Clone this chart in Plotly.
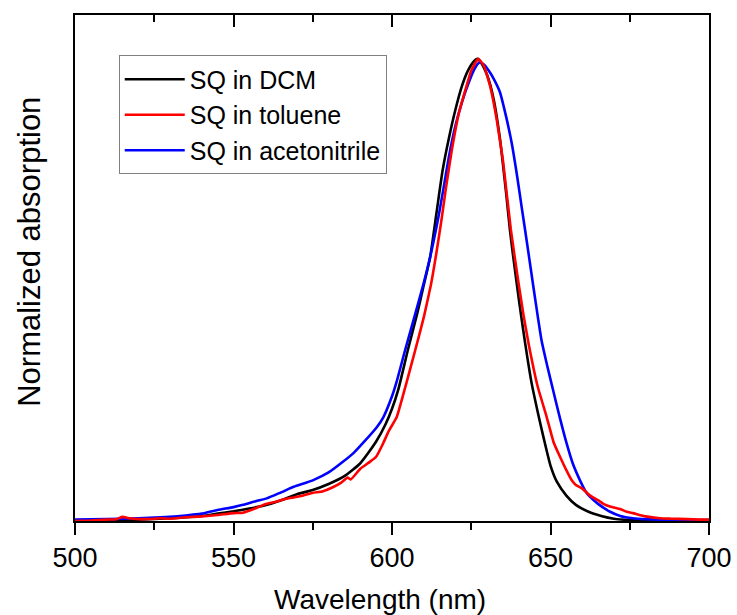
import plotly.graph_objects as go

# ---------------- data ----------------
dcm_wl = [500, 510, 520, 530, 540, 545, 550, 555, 560, 565, 570, 575, 580, 585, 590,
          595, 598, 600, 602, 605, 608, 610, 612, 614, 616, 618, 620, 622, 624, 626,
          627, 628, 630, 632, 634, 636, 637.2, 638, 640, 642, 644, 646, 648, 650, 652,
          655, 658, 662, 666, 670, 675, 680, 690, 700]
dcm_abs = [0.000, 0.001, 0.003, 0.006, 0.011, 0.016, 0.021, 0.027, 0.034, 0.045, 0.058,
           0.067, 0.080, 0.097, 0.125, 0.172, 0.210, 0.243, 0.285, 0.370, 0.450, 0.510,
           0.570, 0.665, 0.760, 0.830, 0.890, 0.940, 0.975, 0.996, 1.000, 0.993, 0.965,
           0.915, 0.830, 0.710, 0.630, 0.585, 0.480, 0.385, 0.300, 0.235, 0.175, 0.120,
           0.085, 0.055, 0.035, 0.020, 0.011, 0.005, 0.002, 0.001, 0.000, 0.000]

tol_wl = [500, 505, 510, 513, 515, 517, 520, 525, 527, 530, 535, 540, 545, 550, 553,
          556, 560, 563, 566, 569, 572, 575, 578, 581, 584, 586, 587, 590, 593, 595,
          597, 599, 601.5, 604.6, 607.3, 610, 612.3, 614, 615.7, 617, 618.8, 621, 623,
          625, 627.2, 629, 631, 633, 635, 637.5, 639.8, 641.5, 643.2, 646, 648.8, 651,
          653, 655, 656.7, 658, 660, 662.5, 665, 667, 669, 672, 674, 676, 680, 684.5,
          688, 693, 697, 700]
tol_abs = [0.000, 0.001, 0.003, 0.004, 0.009, 0.006, 0.004, 0.005, 0.006, 0.005, 0.008,
           0.010, 0.013, 0.017, 0.018, 0.025, 0.036, 0.041, 0.047, 0.051, 0.055, 0.061,
           0.064, 0.072, 0.083, 0.094, 0.090, 0.113, 0.128, 0.139, 0.165, 0.195, 0.225,
           0.300, 0.369, 0.440, 0.512, 0.580, 0.656, 0.720, 0.800, 0.880, 0.929, 0.975,
           1.000, 0.985, 0.940, 0.870, 0.780, 0.630, 0.520, 0.445, 0.380, 0.290, 0.225,
           0.170, 0.139, 0.110, 0.088, 0.078, 0.070, 0.055, 0.045, 0.036, 0.031, 0.026,
           0.020, 0.017, 0.010, 0.006, 0.005, 0.004, 0.003, 0.003]

acn_wl = [500, 510, 520, 527, 535, 540, 545, 550, 553, 557, 560.5, 565, 569, 575, 580,
          584.5, 588, 591, 595.2, 597.3, 600, 601.4, 604.1, 607, 609.9, 612, 614.6,
          616.5, 618, 620, 622, 624, 626, 627.6, 629, 630.5, 632, 634, 636, 637.7, 639.5,
          641, 642.5, 644, 645.5, 647.2, 649, 651, 653, 655, 657, 659.3, 661, 662.5,
          665, 668.8, 672, 676, 680, 690, 700]
acn_abs = [0.003, 0.004, 0.006, 0.008, 0.012, 0.016, 0.024, 0.030, 0.035, 0.043, 0.049,
           0.062, 0.074, 0.088, 0.105, 0.128, 0.148, 0.170, 0.203, 0.225, 0.270, 0.300,
           0.369, 0.440, 0.512, 0.570, 0.656, 0.730, 0.790, 0.855, 0.905, 0.945, 0.978,
           0.992, 0.988, 0.975, 0.958, 0.929, 0.875, 0.820, 0.745, 0.675, 0.606, 0.535,
           0.465, 0.390, 0.335, 0.278, 0.222, 0.170, 0.125, 0.088, 0.065, 0.052, 0.037,
           0.020, 0.011, 0.006, 0.004, 0.002, 0.002]

x_ticks = [500, 550, 600, 650, 700]
x_tick_text = ["500", "550", "600", "650", "700"]
x_title = "Wavelength (nm)"
y_title = "Normalized absorption"

FONT = "Liberation Sans, Arial, sans-serif"
X_RANGE = [500, 700]
Y_RANGE = [0, 1.095]

fig = go.Figure()
fig.add_trace(go.Scatter(x=dcm_wl, y=dcm_abs, mode="lines", name="SQ in DCM",
                         line=dict(color="#000000", width=2.6, shape="spline", smoothing=0.6),
                         legendrank=1))
fig.add_trace(go.Scatter(x=acn_wl, y=acn_abs, mode="lines", name="SQ in acetonitrile",
                         line=dict(color="#0000ff", width=2.6, shape="spline", smoothing=0.6),
                         legendrank=3))
fig.add_trace(go.Scatter(x=tol_wl, y=tol_abs, mode="lines", name="SQ in toluene",
                         line=dict(color="#ff0000", width=2.6, shape="spline", smoothing=0.4),
                         legendrank=2))
# transparent copy on a second, coincident subplot that only carries the top axis (inward ticks)
fig.add_trace(go.Scatter(x=dcm_wl, y=dcm_abs, xaxis="x2", yaxis="y2", mode="lines",
                         line=dict(color="rgba(0,0,0,0)", width=1), showlegend=False,
                         hoverinfo="skip"))

fig.update_layout(
    width=737, height=615,
    margin=dict(l=75, r=28, t=15, b=94, autoexpand=False),
    paper_bgcolor="white", plot_bgcolor="rgba(0,0,0,0)",
    font=dict(family=FONT, color="black"),
    showlegend=True,
    legend=dict(x=0.069, y=0.92, xanchor="left", yanchor="top",
                bgcolor="white", bordercolor="#808080", borderwidth=1,
                font=dict(size=25, family=FONT), itemwidth=60,
                tracegroupgap=0),
    xaxis=dict(domain=[0, 1], range=X_RANGE, tickmode="array", tickvals=x_ticks,
               ticktext=x_tick_text,
               ticks="outside", ticklen=12, tickwidth=2, tickcolor="#000000",
               minor=dict(dtick=25, ticks="outside", ticklen=7, tickwidth=2, tickcolor="#000000"),
               showline=True, linewidth=2, linecolor="black", mirror=True,
               showgrid=False, zeroline=False, automargin=False,
               tickfont=dict(size=27, family=FONT)),
    yaxis=dict(domain=[0, 1], range=Y_RANGE, showticklabels=False, ticks="",
               showline=True, linewidth=2, linecolor="black", mirror=True,
               showgrid=False, zeroline=False, automargin=False),
    xaxis2=dict(domain=[0, 1], range=X_RANGE, anchor="y2", side="top",
                tickmode="linear", tick0=500, dtick=50, showticklabels=False,
                ticks="inside", ticklen=12, tickwidth=2, tickcolor="#000000",
                minor=dict(dtick=25, ticks="inside", ticklen=7, tickwidth=2, tickcolor="#000000"),
                showline=True, linewidth=2, linecolor="black",
                showgrid=False, zeroline=False, automargin=False),
    yaxis2=dict(domain=[0, 1], range=Y_RANGE, anchor="x2", showticklabels=False, ticks="",
                showline=False, showgrid=False, zeroline=False, automargin=False),
    annotations=[
        dict(text=x_title, xref="paper", yref="paper", x=0.481, y=-0.155,
             xanchor="center", yanchor="middle", showarrow=False,
             font=dict(size=28, family=FONT, color="black")),
        dict(text=y_title, xref="paper", yref="paper", x=-0.071, y=0.532,
             xanchor="center", yanchor="middle", textangle=-90, showarrow=False,
             font=dict(size=31, family=FONT, color="black")),
    ],
)

fig.write_html("out.html")
